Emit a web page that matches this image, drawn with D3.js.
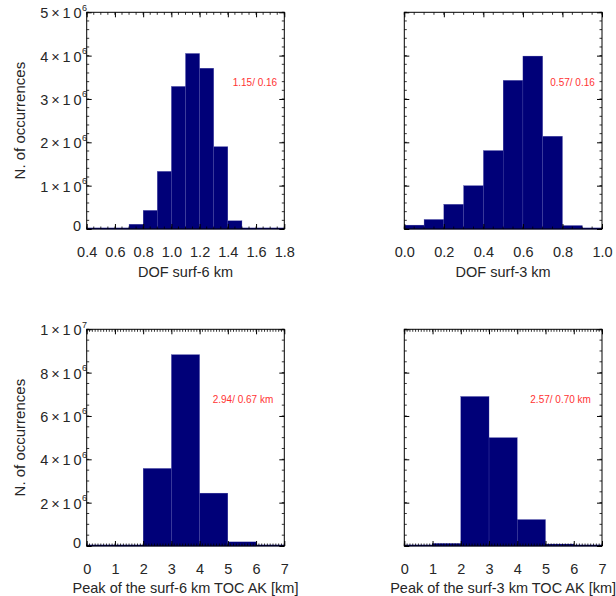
<!DOCTYPE html>
<html>
<head>
<meta charset="utf-8">
<script src="https://cdn.jsdelivr.net/npm/d3@7"></script>
<style>
  body { margin: 0; background: #fff; }
  svg { display: block; font-family: "Liberation Sans", Arial, sans-serif; }
  .axis path, .axis line { stroke: #000; }
</style>
</head>
<body>
<div id="chart"></div>
<script>
// histogram data, bin lower edges and counts
const dof6Bins = [0.4, 0.5, 0.6, 0.7, 0.8, 0.9, 1.0, 1.1, 1.2, 1.3, 1.4, 1.5, 1.6, 1.7];
const dof6Counts = [0, 5000, 20000, 110000, 430000, 1330000, 3290000, 4050000, 3710000, 1900000, 190000, 10000, 0, 0];

const dof3Bins = [0.0, 0.1, 0.2, 0.3, 0.4, 0.5, 0.6, 0.7, 0.8, 0.9];
const dof3Counts = [90000, 220000, 570000, 1000000, 1810000, 3430000, 3990000, 2140000, 80000, 20000];

const peak6Bins = [0, 1, 2, 3, 4, 5, 6];
const peak6Counts = [0, 30000, 3580000, 8830000, 2440000, 190000, 0];

const peak3Bins = [0, 1, 2, 3, 4, 5, 6];
const peak3Counts = [0, 120000, 6900000, 5000000, 1220000, 90000, 20000];

// y tick labels: [mantissa, exponent]
const yTicksTop = [[0, null], [1, 6], [2, 6], [3, 6], [4, 6], [5, 6]];
const yTicksBottom = [[0, null], [2, 6], [4, 6], [6, 6], [8, 6], [1, 7]];

const xTicksDof6 = [0.4, 0.6, 0.8, 1.0, 1.2, 1.4, 1.6, 1.8];
const xTicksDof3 = [0.0, 0.2, 0.4, 0.6, 0.8, 1.0];
const xTicksPeak = [0, 1, 2, 3, 4, 5, 6, 7];

const stats = ['1.15/ 0.16', '0.57/ 0.16', '2.94/ 0.67 km', '2.57/ 0.70 km'];
const xTitles = ['DOF surf-6 km', 'DOF surf-3 km', 'Peak of the surf-6 km TOC AK [km]', 'Peak of the surf-3 km TOC AK [km]'];

const W = 616, H = 596;
const barColor = '#000078';
const textColor = '#262626';
const fs = 14.5;

const svg = d3.select('#chart').append('svg')
  .attr('width', W).attr('height', H);

const cols = [[86.7, 284.3], [404.3, 602]];
const rows = [[12.3, 229], [329.3, 546]];

const panels = [
  { col: 0, row: 0, bins: dof6Bins, counts: dof6Counts, width: 0.1, xDom: [0.4, 1.8], xTicks: xTicksDof6, xMinor: 0.05, xFmt: d3.format('.1f'),
    yMax: 5e6, yTicks: yTicksTop, yMinor: 2e5, yLabels: true, stat: stats[0], xTitle: xTitles[0], statDx: 146 },
  { col: 1, row: 0, bins: dof3Bins, counts: dof3Counts, width: 0.1, xDom: [0, 1], xTicks: xTicksDof3, xMinor: 0.05, xFmt: d3.format('.1f'),
    yMax: 5e6, yTicks: yTicksTop, yMinor: 2e5, yLabels: false, stat: stats[1], xTitle: xTitles[1], statDx: 146 },
  { col: 0, row: 1, bins: peak6Bins, counts: peak6Counts, width: 1, xDom: [0, 7], xTicks: xTicksPeak, xMinor: 0.1, xFmt: d3.format('d'),
    yMax: 1e7, yTicks: yTicksBottom, yMinor: 5e5, yLabels: true, stat: stats[2], xTitle: xTitles[2], statDx: 126 },
  { col: 1, row: 1, bins: peak3Bins, counts: peak3Counts, width: 1, xDom: [0, 7], xTicks: xTicksPeak, xMinor: 0.1, xFmt: d3.format('d'),
    yMax: 1e7, yTicks: yTicksBottom, yMinor: 5e5, yLabels: false, stat: stats[3], xTitle: xTitles[3], statDx: 126 }
];

function minorTicks(dom, step) {
  const out = [];
  const n = Math.round((dom[1] - dom[0]) / step);
  for (let i = 0; i <= n; i++) out.push(dom[0] + i * step);
  return out;
}

panels.forEach(p => {
  const [x0, x1] = cols[p.col];
  const [y0, y1] = rows[p.row];
  const x = d3.scaleLinear().domain(p.xDom).range([x0, x1]);
  const y = d3.scaleLinear().domain([0, p.yMax]).range([y1, y0]);
  const g = svg.append('g');

  // bars
  g.selectAll('rect.bar')
    .data(p.bins.map((b, i) => ({ b, c: p.counts[i] })))
    .enter().append('rect')
    .attr('class', 'bar')
    .attr('x', d => x(d.b))
    .attr('width', d => x(d.b + p.width) - x(d.b))
    .attr('y', d => y(d.c))
    .attr('height', d => y(0) - y(d.c))
    .attr('fill', barColor)
    .attr('stroke', '#4a4aa8')
    .attr('stroke-width', 0.3);

  // histogram baseline
  g.append('line')
    .attr('x1', x(p.xDom[0])).attr('x2', x(p.xDom[1]))
    .attr('y1', y(0) - 0.5).attr('y2', y(0) - 0.5)
    .attr('stroke', barColor).attr('stroke-width', 1.5);

  // minor ticks, all four sides
  const xm = minorTicks(p.xDom, p.xMinor);
  const ym = minorTicks([0, p.yMax], p.yMinor);
  const tickStyle = sel => sel.attr('stroke', '#000').attr('stroke-width', 0.8);
  g.selectAll('line.xmb').data(xm).enter().append('line')
    .attr('x1', d => x(d)).attr('x2', d => x(d)).attr('y1', y1).attr('y2', y1 - 2.5).call(tickStyle);
  g.selectAll('line.xmt').data(xm).enter().append('line')
    .attr('x1', d => x(d)).attr('x2', d => x(d)).attr('y1', y0).attr('y2', y0 + 2.5).call(tickStyle);
  g.selectAll('line.yml').data(ym).enter().append('line')
    .attr('y1', d => y(d)).attr('y2', d => y(d)).attr('x1', x0).attr('x2', x0 + 2.5).call(tickStyle);
  g.selectAll('line.ymr').data(ym).enter().append('line')
    .attr('y1', d => y(d)).attr('y2', d => y(d)).attr('x1', x1).attr('x2', x1 - 2.5).call(tickStyle);

  // major ticks with labels
  const yVals = p.yTicks.map(t => t[0] * (t[1] ? Math.pow(10, t[1]) : 1));

  const xAxis = g.append('g').attr('class', 'axis')
    .attr('transform', `translate(0,${y1})`)
    .call(d3.axisBottom(x).tickValues(p.xTicks).tickSize(-5).tickPadding(18).tickFormat(p.xFmt));
  xAxis.select('.domain').remove();
  xAxis.selectAll('text').attr('font-size', fs).attr('fill', textColor)
    .attr('font-family', '"Liberation Sans", Arial, sans-serif');

  g.append('g').attr('class', 'axis')
    .attr('transform', `translate(0,${y0})`)
    .call(d3.axisTop(x).tickValues(p.xTicks).tickSize(-5).tickFormat(''))
    .select('.domain').remove();

  const yAxis = g.append('g').attr('class', 'axis')
    .attr('transform', `translate(${x0},0)`)
    .call(d3.axisLeft(y).tickValues(yVals).tickSize(-5).tickFormat(''));
  yAxis.select('.domain').remove();

  g.append('g').attr('class', 'axis')
    .attr('transform', `translate(${x1},0)`)
    .call(d3.axisRight(y).tickValues(yVals).tickSize(-5).tickFormat(''))
    .select('.domain').remove();

  if (p.yLabels) {
    p.yTicks.forEach((t, i) => {
      const ty = y(yVals[i]);
      if (t[1] === null) {
        g.append('text')
          .attr('x', x0 - 5.5).attr('y', ty + 2)
          .attr('text-anchor', 'end')
          .attr('font-size', fs).attr('fill', textColor)
          .text('0');
        return;
      }
      g.append('text')
        .attr('x', x0 - 46.5).attr('y', ty + 6)
        .attr('font-size', fs).attr('fill', textColor)
        .attr('textLength', 41.5).attr('lengthAdjust', 'spacing')
        .text(`${t[0]}\u00d710`);
      g.append('text')
        .attr('x', x0 - 4.7).attr('y', ty - 1.5)
        .attr('font-size', 9).attr('fill', textColor)
        .text(t[1]);
    });
  }

  // frame
  g.append('rect')
    .attr('x', x0).attr('y', y0)
    .attr('width', x1 - x0).attr('height', y1 - y0)
    .attr('fill', 'none').attr('stroke', '#000').attr('stroke-width', 1);

  // stats text
  g.append('text')
    .attr('x', x0 + p.statDx)
    .attr('y', p.row === 0 ? 86 : 402.5)
    .attr('font-size', 10)
    .attr('fill', '#ff3333')
    .text(p.stat);

  // x title
  g.append('text')
    .attr('x', (x0 + x1) / 2)
    .attr('y', p.row === 0 ? 277 : 592.5)
    .attr('text-anchor', 'middle')
    .attr('font-size', fs)
    .attr('fill', textColor)
    .text(p.xTitle);

  // y title
  if (p.yLabels) {
    g.append('text')
      .attr('transform', `translate(25,${(y0 + y1) / 2}) rotate(-90)`)
      .attr('text-anchor', 'middle')
      .attr('font-size', 15)
      .attr('fill', textColor)
      .text('N. of occurrences');
  }
});
</script>
</body>
</html>
